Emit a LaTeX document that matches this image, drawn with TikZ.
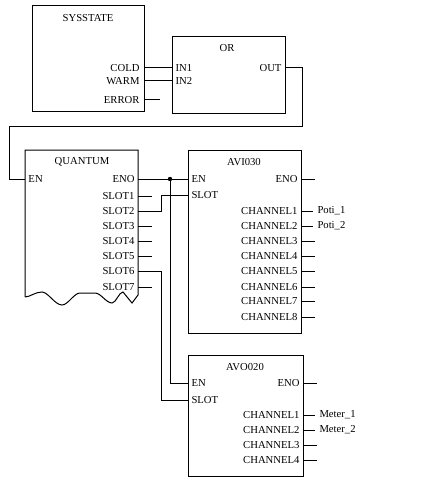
\documentclass[tikz,border=0pt]{standalone}
\usepackage{fontspec}
\setmainfont{Liberation Serif}
\usetikzlibrary{positioning}

\begin{document}
\begin{tikzpicture}[
    x=0.75pt, y=-0.75pt, line width=0.75pt,
    block/.style={rectangle, draw, anchor=north west, inner sep=0pt, outer sep=0pt},
    title/.style={font=\fontsize{8}{10}\selectfont, inner sep=0pt},
    rlabel/.style={anchor=east, font=\fontsize{8}{10}\selectfont, inner sep=0pt},
    llabel/.style={anchor=west, font=\fontsize{8}{10}\selectfont, inner sep=0pt},
    varname/.style={anchor=west, font=\fontsize{8}{10}\selectfont, inner sep=3pt},
    wire/.style={draw, line width=0.75pt}
]
\useasboundingbox (0,0) rectangle (433,481);

% SYSSTATE block
\node[block, minimum width=84pt, minimum height=79.5pt] (sys) at (32,6) {};
\node[title] (sysT) at (88,18) {SYSSTATE};
\foreach \t/\y in {COLD/68, WARM/81, ERROR/100} {
    \node[rlabel] (sys\t) at (140,\y) {\t};
}

% OR block
\node[block, minimum width=84.75pt, minimum height=57.75pt] (or) at (172,37) {};
\node[title] (orT) at (227,48) {OR};
\node[llabel] (orIN1) at (175,68) {IN1};
\node[llabel] (orIN2) at (175,81) {IN2};
\node[rlabel] (orOUT) at (282,68) {OUT};

% QUANTUM block
\node[block, draw=none, minimum width=84.75pt, minimum height=110.25pt] (quantum) at (25,150) {};
\draw (quantum.south west) -- (quantum.north west) -- (quantum.north east) -- (138,295)
    -- (132,303) -- (123,292) .. controls (119,292) and (116,303) .. (112,303)
    .. controls (106,303) and (101,293) .. (95,293) -- (80,293)
    .. controls (74,293) and (68,305) .. (62,305)
    .. controls (55,305) and (48,292) .. (42,292)
    .. controls (35,292) and (30,297) .. (quantum.south west);
\node[title] (quantumT) at (82,162) {QUANTUM};
\node[llabel] (qEN) at (28,179) {EN};
\node[rlabel] (qENO) at (135,179) {ENO};
\foreach \n/\y in {1/196, 2/211, 3/226, 4/241, 5/256, 6/271, 7/287} {
    \node[rlabel] (qSLOT\n) at (135,\y) {SLOT\n};
}

% AVI030 block
\node[block, minimum width=84.75pt, minimum height=137.25pt] (avi) at (188,150) {};
\node[title] (aviT) at (244,162) {AVI030};
\node[llabel] (aviEN) at (191,179) {EN};
\node[llabel] (aviSLOT) at (191,195) {SLOT};
\node[rlabel] (aviENO) at (298,179) {ENO};
\foreach \n/\y in {1/211, 2/226, 3/241, 4/256, 5/271, 6/287, 7/301, 8/317} {
    \node[rlabel] (aviCH\n) at (298,\y) {CHANNEL\n};
}

% AVO020 block
\node[block, minimum width=86.25pt, minimum height=90.75pt] (avo) at (188,355) {};
\node[title] (avoT) at (245,367) {AVO020};
\node[llabel] (avoEN) at (191,383) {EN};
\node[llabel] (avoSLOT) at (191,400) {SLOT};
\node[rlabel] (avoENO) at (300,383) {ENO};
\foreach \n/\y in {1/415, 2/430, 3/445, 4/460} {
    \node[rlabel] (avoCH\n) at (300,\y) {CHANNEL\n};
}

% Variables
\node[varname] (poti1) at (313,211) {Poti\_1};
\node[varname] (poti2) at (313,226) {Poti\_2};
\node[varname] (meter1) at (315,415) {Meter\_1};
\node[varname] (meter2) at (315,430) {Meter\_2};

% Connections
\draw[wire] (sys.east |- sysCOLD) -- (or.west |- sysCOLD);
\draw[wire] (sys.east |- sysWARM) -- (or.west |- sysWARM);
\coordinate (errEnd) at (160,100);
\draw[wire] (sys.east |- sysERROR) -- (errEnd);

\coordinate (outA) at (302,127);
\coordinate (outB) at (9,127);
\draw[wire] (or.east |- orOUT) -| (outA) -- (outB) |- (quantum.west |- qEN);

\coordinate (junc) at (170,179);
\draw[wire] (quantum.east |- qENO) -- (avi.west |- aviEN);
\draw[wire] (junc) |- (avo.west |- avoEN);
\fill (junc) circle (2.2);

\coordinate (slotA) at (161,211);
\draw[wire] (quantum.east |- qSLOT2) -- (slotA) |- (avi.west |- aviSLOT);
\coordinate (slotB) at (161,271);
\draw[wire] (quantum.east |- qSLOT6) -- (slotB) |- (avo.west |- avoSLOT);

% Free pins
\foreach \n in {1,3,4,5,7} {
    \coordinate (qP\n) at (152,0);
    \draw[wire] (quantum.east |- qSLOT\n) -- (qP\n |- qSLOT\n);
}
\coordinate (aviP) at (315,0);
\draw[wire] (avi.east |- aviENO) -- (aviP |- aviENO);
\draw[wire] (avi.east |- poti1) -- (poti1.west);
\draw[wire] (avi.east |- poti2) -- (poti2.west);
\foreach \n in {3,...,8} {
    \draw[wire] (avi.east |- aviCH\n) -- (aviP |- aviCH\n);
}
\coordinate (avoP) at (317,0);
\draw[wire] (avo.east |- avoENO) -- (avoP |- avoENO);
\draw[wire] (avo.east |- meter1) -- (meter1.west);
\draw[wire] (avo.east |- meter2) -- (meter2.west);
\foreach \n in {3,4} {
    \draw[wire] (avo.east |- avoCH\n) -- (avoP |- avoCH\n);
}

\end{tikzpicture}
\end{document}
